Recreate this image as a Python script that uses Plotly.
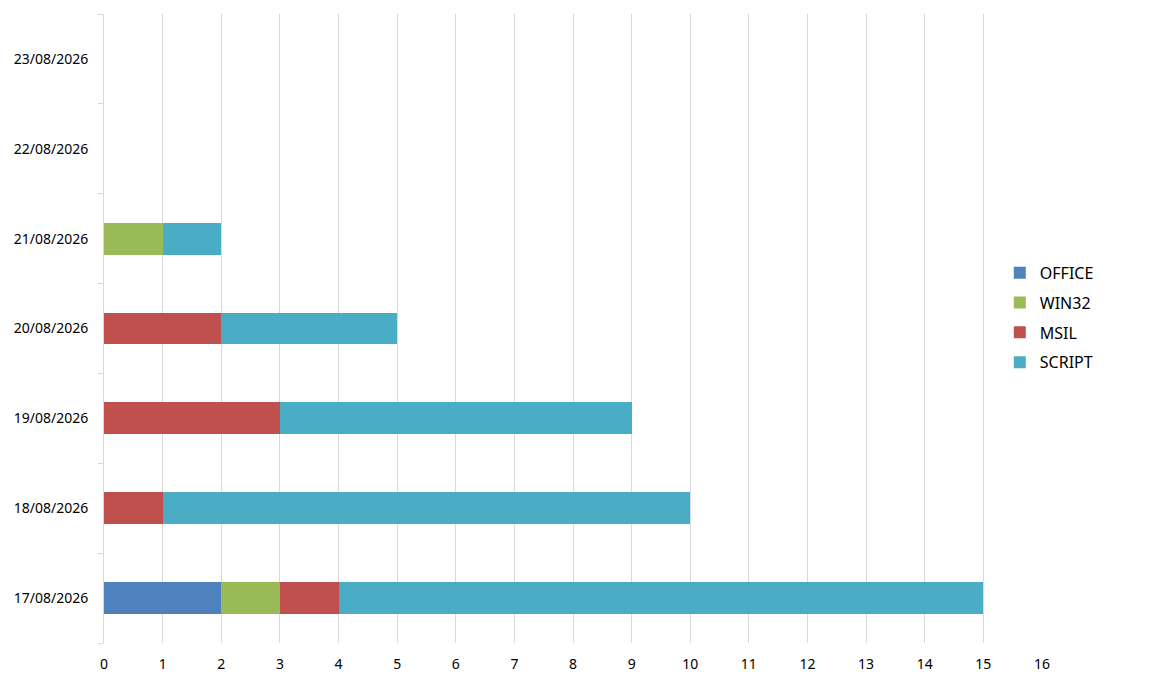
import plotly.graph_objects as go

dates = ["17/08/2026", "18/08/2026", "19/08/2026", "20/08/2026",
         "21/08/2026", "22/08/2026", "23/08/2026"]
office = [2, None, None, None, None, None, None]
win32 = [1, None, None, None, 1, None, None]
msil = [1, 1, 3, 2, None, None, None]
script = [11, 9, 6, 3, 1, None, None]
x_ticks = list(range(0, 17))

series = [
    ("OFFICE", office, "#4F81BD"),
    ("WIN32", win32, "#9BBB59"),
    ("MSIL", msil, "#C0504D"),
    ("SCRIPT", script, "#4BACC6"),
]

fig = go.Figure()
for name, vals, color in series:
    fig.add_trace(go.Bar(
        y=dates, x=vals, name=name, orientation="h", legendgroup=name,
        marker=dict(color=color, line=dict(width=0)),
    ))

# invisible helper trace on overlaying axis for gridlines 0..15
fig.add_trace(go.Scatter(x=[0], y=[dates[0]], xaxis="x2", mode="markers",
                         marker=dict(opacity=0), showlegend=False, hoverinfo="skip"))

font = "Noto Sans, Open Sans, sans-serif"
fig.update_layout(
    width=1160, height=681,
    barmode="stack", bargap=0.644,
    plot_bgcolor="white", paper_bgcolor="white",
    margin=dict(l=96, r=126, t=6, b=46, autoexpand=False),
    font=dict(family=font, size=14, color="#000000"),
    xaxis=dict(range=[0, 16], tickvals=x_ticks, showgrid=False,
               zeroline=False, showline=False, ticks="",
               tickfont=dict(size=14), ticklabelstandoff=11, automargin=False),
    xaxis2=dict(range=[0, 16], overlaying="x", tickvals=x_ticks[:-1],
                showgrid=True, gridcolor="#d9d9d9", gridwidth=1,
                showticklabels=False, zeroline=False, showline=False,
                side="bottom", layer="below traces", automargin=False),
    yaxis=dict(categoryorder="array", categoryarray=dates,
               showline=True, linecolor="#d9d9d9", linewidth=1,
               ticks="outside", tickson="boundaries", ticklen=5,
               tickcolor="#d9d9d9", showgrid=False, zeroline=False,
               tickfont=dict(size=14), ticklabelstandoff=12, automargin=False),
    legend=dict(xref="container", yref="container", x=0.855, y=0.545,
                xanchor="left", yanchor="middle", traceorder="grouped",
                font=dict(size=16), itemsizing="constant",
                tracegroupgap=6, bgcolor="rgba(0,0,0,0)"),
    showlegend=True,
)

fig.write_html("out.html")
